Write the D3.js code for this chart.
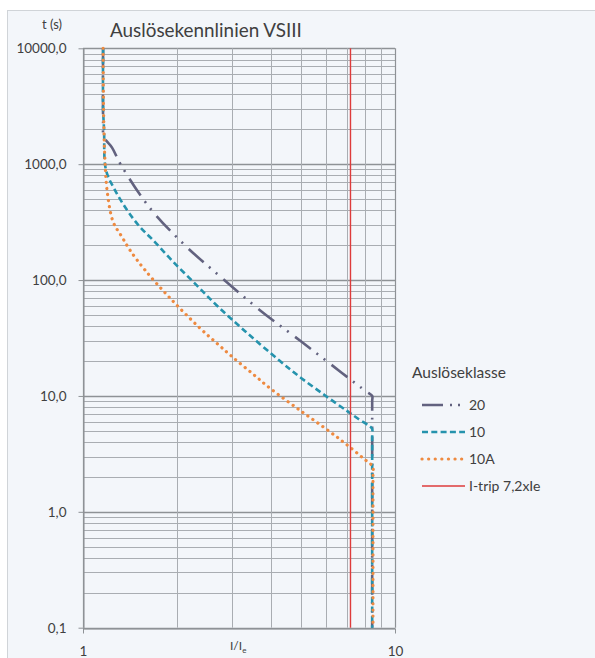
<!DOCTYPE html>
<html><head><meta charset="utf-8">
<script src="https://cdn.jsdelivr.net/npm/d3@7"></script>
<style>
body{margin:0;background:#fff}
svg{display:block}
text{font-family:Lato,"Open Sans",sans-serif;fill:#404040}
</style>
</head><body>
<svg id="c" width="595" height="658"></svg>
<script>
// ---- data ----
const seriesNames = ["20", "10", "10A"];
const x20  = [1.16, 1.16, 1.168, 1.239, 1.324, 1.639, 2.12, 2.79, 3.69, 5.03, 6.76, 8.13, 8.45, 8.45, 8.45];
const t20  = [10000, 2500, 1714, 1390, 982, 418, 200, 104, 55, 29.2, 15.8, 10.8, 10.0, 9.0, 0.1];
const x10  = [1.16, 1.16, 1.168, 1.185, 1.266, 1.384, 1.523, 1.677, 1.944, 2.32, 2.69, 3.3, 4.28, 5.0, 6.0, 7.0, 7.6, 8.45, 8.45, 8.45];
const t10  = [10000, 3000, 2000, 889, 598, 402, 287, 221, 144, 89.5, 60, 36.4, 20.0, 14.3, 10.0, 7.46, 6.38, 5.2, 4.8, 0.1];
const x10A = [1.16, 1.165, 1.176, 1.194, 1.248, 1.334, 1.415, 1.58, 1.90, 2.37, 2.7, 3.0, 3.5, 4.0, 5.0, 6.19, 7.0, 7.9, 8.5, 8.5, 8.5];
const t10A = [10000, 2500, 1085, 598, 320, 235, 181, 122, 70, 38.5, 28.1, 21.9, 15.5, 11.5, 7.4, 4.9, 3.8, 2.91, 2.44, 2.2, 0.1];
const tripX = 7.2;
const tripLabel = "I-trip 7,2xIe";
const yTickValues = [0.1, 1, 10, 100, 1000, 10000];
const yTickLabels = ["0,1", "1,0", "10,0", "100,0", "1000,0", "10000,0"];
const xTickValues = [1, 10];
const xTickLabels = ["1", "10"];
const minorFactors = [2, 3, 4, 5, 6, 7, 8, 9];

// ---- layout ----
const svg = d3.select("#c");
const L = 83, R = 395, T = 48.3, B = 627.7;
const x = d3.scaleLog().domain([1, 10]).range([L, R]);
const y = d3.scaleLog().domain([0.1, 10000]).range([B, T]);

svg.append("rect").attr("x", 7.5).attr("y", 10.5).attr("width", 600).attr("height", 660)
  .attr("fill", "#f3f6fa").attr("stroke", "#d0d4d8");

const grid = svg.append("g");
const hMinor = [];
[0.1, 1, 10, 100, 1000].forEach(d => minorFactors.forEach(k => hMinor.push(d * k)));
grid.selectAll(".hm").data(hMinor).join("line")
  .attr("x1", L).attr("x2", R).attr("y1", d => Math.round(y(d)) + 0.5).attr("y2", d => Math.round(y(d)) + 0.5)
  .attr("stroke", "#a9adb2").attr("stroke-width", 1);
grid.selectAll(".hM").data(yTickValues).join("line")
  .attr("x1", L).attr("x2", R).attr("y1", d => Math.round(y(d)) + 0.5).attr("y2", d => Math.round(y(d)) + 0.5)
  .attr("stroke", "#8e9296").attr("stroke-width", 1.3);
grid.selectAll(".vm").data(minorFactors).join("line")
  .attr("y1", T).attr("y2", B).attr("x1", d => Math.round(x(d)) + 0.5).attr("x2", d => Math.round(x(d)) + 0.5)
  .attr("stroke", "#a9adb2").attr("stroke-width", 1);
grid.selectAll(".vM").data(xTickValues).join("line")
  .attr("y1", T).attr("y2", B).attr("x1", d => Math.round(x(d)) + 0.5).attr("x2", d => Math.round(x(d)) + 0.5)
  .attr("stroke", "#8e9296").attr("stroke-width", 1.2);

// axes
const yAxis = svg.append("g").attr("transform", `translate(${Math.round(L) + 0.5},0)`)
  .call(d3.axisLeft(y).tickValues(yTickValues).tickFormat((d, i) => yTickLabels[i]).tickSize(5).tickPadding(12).tickSizeOuter(0));
yAxis.selectAll("text").style("font-size", "13.5px").attr("fill", "#454545").style("font-family", "Lato,sans-serif");
yAxis.selectAll("line,path").attr("stroke", "#8e9296");

const xAxis = svg.append("g").attr("transform", `translate(0,${Math.round(B) + 0.5})`)
  .call(d3.axisBottom(x).tickValues(xTickValues).tickFormat((d, i) => xTickLabels[i]).tickSize(5).tickPadding(13).tickSizeOuter(0));
xAxis.selectAll("text").style("font-size", "13.5px").attr("fill", "#454545").style("font-family", "Lato,sans-serif");
xAxis.selectAll("line,path").attr("stroke", "#8e9296");

// curves
const line = d3.line().x(d => x(d[0])).y(d => y(d[1])).curve(d3.curveCatmullRom.alpha(0.5));
const series = [
  {name: seriesNames[0], xs: x20, ts: t20, color: "#62627f", w: 2.6, dash: "20,7,2,7,2,8", cap: "butt"},
  {name: seriesNames[1], xs: x10, ts: t10, color: "#2593ad", w: 2.6, dash: "6,3.5", cap: "butt"},
  {name: seriesNames[2], xs: x10A, ts: t10A, color: "#ee8a40", w: 3.2, dash: "0.1,6", cap: "round"}
];
series.forEach(s => {
  svg.append("path").datum(s.xs.map((v, i) => [v, s.ts[i]]))
    .attr("d", line).attr("fill", "none").attr("stroke", s.color)
    .attr("stroke-width", s.w).attr("stroke-dasharray", s.dash).attr("stroke-linecap", s.cap)
    .attr("stroke-linejoin", "round");
});
// trip line
svg.append("line").attr("x1", x(tripX)).attr("x2", x(tripX)).attr("y1", y(0.1)).attr("y2", y(10000))
  .attr("stroke", "#de3b3b").attr("stroke-width", 1.4);

// titles
const title = svg.append("text").attr("x", 110).attr("y", 37).text("Auslösekennlinien VSIII")
  .style("font-size", "21px").attr("fill", "#404040");
const tw = title.node().getComputedTextLength();
title.style("font-size", (21 * 192 / tw).toFixed(2) + "px");

svg.append("text").attr("x", 52).attr("y", 29).attr("text-anchor", "middle").text("t (s)")
  .style("font-size", "13px");

const xl = svg.append("text").attr("x", 230).attr("y", 650).style("font-size", "12px");
xl.append("tspan").text("I/I");
xl.append("tspan").text("e").attr("dy", 3).style("font-size", "8px");

// legend
const lg = svg.append("g");
const lt = lg.append("text").attr("x", 412).attr("y", 378).text("Auslöseklasse").style("font-size", "13px");
const ltw = lt.node().getComputedTextLength();
lt.style("font-size", (13 * 94 / ltw).toFixed(2) + "px");
const legItems = series.map(s => ({name: s.name, color: s.color, w: s.w, cap: s.cap}))
  .concat([{name: tripLabel, color: "#de3b3b", w: 1.4, cap: "butt"}]);
const legDash = ["21,7,2,6,2,20", "6,3.3", "0.1,6.5", null];
legItems.forEach((d, i) => {
  const yy = 405 + i * 27;
  lg.append("line").attr("x1", 422).attr("x2", 465).attr("y1", yy).attr("y2", yy)
    .attr("stroke", d.color).attr("stroke-width", d.w).attr("stroke-dasharray", legDash[i])
    .attr("stroke-linecap", d.cap);
  lg.append("text").attr("x", 469).attr("y", yy + 5).text(d.name).style("font-size", "14px");
});
</script>
</body></html>
